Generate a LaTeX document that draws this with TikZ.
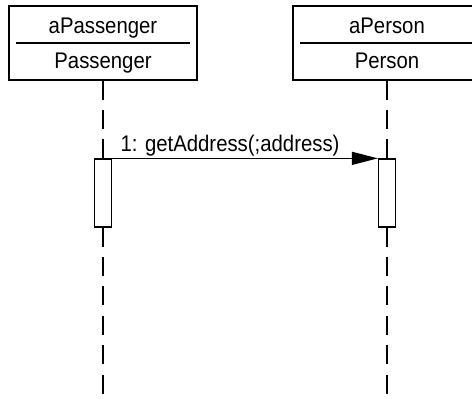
\documentclass[tikz,border=0pt]{standalone}
\usepackage{fontspec}
\setmainfont{Liberation Sans}[FakeStretch=0.9]
\usepackage{tikz}
\usetikzlibrary{arrows.meta, positioning, calc}

\begin{document}
\begin{tikzpicture}[
    x=0.5pt, y=-0.5pt,
    font=\fontsize{11.3pt}{13pt}\selectfont,
    object/.style={rectangle, draw, line width=0.65pt, minimum width=94pt, minimum height=37pt, inner sep=0pt},
    objname/.style={anchor=base, inner sep=0pt},
    lifeline/.style={line width=0.65pt, dash pattern=on 9.5pt off 5.2pt},
    activation/.style={rectangle, draw, line width=0.65pt, fill=white, minimum width=8.5pt, minimum height=34pt, inner sep=0pt},
    msg/.style={-{Triangle[length=13pt, width=6.5pt]}, line width=0.65pt},
]
\clip (0,0) rectangle (472,398);

% Objects
\node[object] (pass) at (103,43) {};
\node[object] (pers) at (387,43) {};

% Names and dividers
\node[objname] (passA) at (103,33) {aPassenger};
\node[objname] (passC) at (103,68) {Passenger};
\node[objname] (persA) at (387,33) {aPerson};
\node[objname] (persC) at (387,68) {Person};
\foreach \n in {pass, pers} {
    \draw[line width=0.65pt] ($(\n.west)+(8,0)$) -- ($(\n.east)+(-8,0)$);
}

% Lifelines
\foreach \n in {pass, pers} {
    \draw[lifeline] (\n.south) -- ++(0,318);
}

% Activations
\node[activation] (actPass) at (103,193) {};
\node[activation] (actPers) at (387,193) {};

% Message
\draw[msg] (actPass.north east) -- (actPers.north west);
\node[anchor=base west, inner sep=0pt] (msgA) at ($(actPass.north east)+(8,-7)$) {1: getAddress(;address)};

\end{tikzpicture}
\end{document}
